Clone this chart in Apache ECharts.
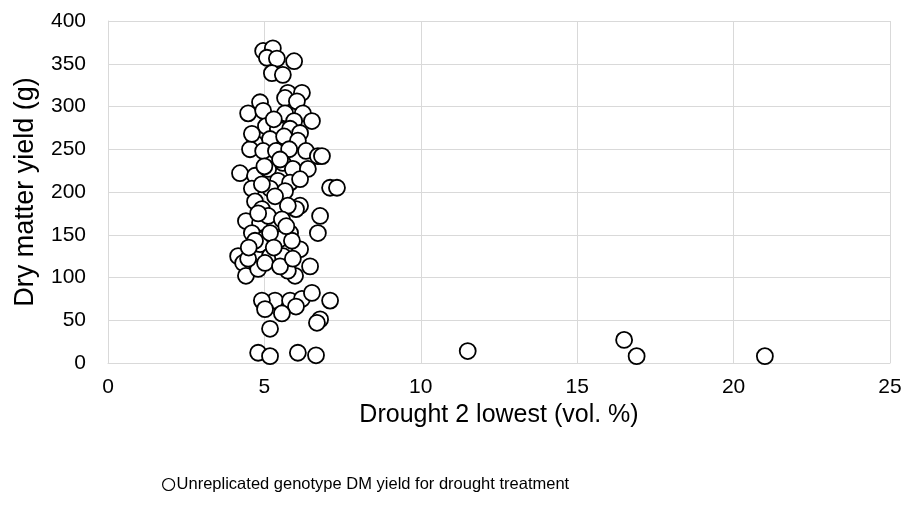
<!DOCTYPE html>
<html>
<head>
<meta charset="utf-8">
<script src="https://cdn.jsdelivr.net/npm/echarts@6/dist/echarts.min.js"></script>
<style>html,body{margin:0;padding:0;background:#fff;}#c{width:909px;height:509px;}</style>
</head>
<body>
<div id="c"></div>
<script>
const seriesName = 'Unreplicated genotype DM yield for drought treatment';
const xAxisName = 'Drought 2 lowest (vol. %)';
const yAxisName = 'Dry matter yield (g)';
const droughtX = [
  4.96,5.27,5.08,5.40,5.95,5.24,5.59,5.75,6.20,5.66,4.86,6.04,4.48,4.96,5.66,6.23,5.95,6.52,5.05,5.43,
  5.82,6.14,4.70,5.18,5.63,6.07,4.54,4.96,5.37,5.79,6.33,6.71,6.84,4.22,4.70,5.12,5.59,5.91,6.39,5.43,
  5.82,4.60,5.18,5.66,6.14,7.10,7.32,6.14,6.01,6.78,4.70,4.92,4.41,4.86,5.34,5.82,6.71,4.60,4.99,5.50,
  4.16,4.32,4.41,4.86,5.18,5.59,6.14,6.46,5.98,5.75,4.80,5.34,4.92,5.02,5.82,6.20,6.52,7.10,6.01,5.56,
  5.18,6.78,6.68,4.80,5.18,6.07,6.65,4.92,5.34,5.75,5.12,5.56,4.70,5.18,5.88,4.48,5.02,5.50,5.91,
  4.60,5.30,5.00,5.50,4.80,5.30,5.70,4.50,
  11.5,16.5,16.9,21.0
];
const dmYield = [
  365,368,357,356,353,339,337,316,316,310,305,306,292,295,292,292,283,283,277,274,
  274,269,257,262,265,260,250,248,248,250,248,242,242,222,219,227,234,227,227,213,
  211,204,204,201,215,205,205,184,180,172,189,180,166,164,160,152,152,152,145,145,
  125,117,102,139,125,125,133,113,102,108,110,73,73,63,73,75,82,73,66,58,
  40,51,47,12,8,12,9,209,195,184,172,168,143,152,143,122,117,113,122,
  268,285,230,238,175,135,160,135,
  14,27,8,8
];
const xTicks = [0,5,10,15,20,25];
const yTicks = [0,50,100,150,200,250,300,350,400];

const points = droughtX.map((x,i)=>[x, dmYield[i]]);
const chart = echarts.init(document.getElementById('c'), null, {renderer:'canvas'});
const font = 'Liberation Sans, Arial, sans-serif';
chart.setOption({
  animation:false,
  backgroundColor:'#fff',
  grid:{left:108,right:19,top:21,bottom:146,containLabel:false},
  xAxis:{
    type:'value', min:xTicks[0], max:xTicks[xTicks.length-1], interval:5,
    name:xAxisName, nameLocation:'middle', nameGap:35,
    nameTextStyle:{fontFamily:font,fontSize:25,color:'#000'},
    axisLine:{show:true,lineStyle:{color:'#d9d9d9',width:1}},
    axisTick:{show:false},
    axisLabel:{fontFamily:font,fontSize:21,color:'#000',margin:14},
    splitLine:{show:true,lineStyle:{color:'#d9d9d9',width:1}}
  },
  yAxis:{
    type:'value', min:yTicks[0], max:yTicks[yTicks.length-1], interval:50,
    name:yAxisName, nameLocation:'middle', nameGap:69,
    nameTextStyle:{fontFamily:font,fontSize:27,color:'#000'},
    axisLine:{show:true,lineStyle:{color:'#d9d9d9',width:1}},
    axisTick:{show:false},
    axisLabel:{fontFamily:font,fontSize:21,color:'#000',margin:22},
    splitLine:{show:true,lineStyle:{color:'#d9d9d9',width:1}}
  },
  legend:{
    show:true, top:471, left:157,
    itemWidth:12,itemHeight:12,itemGap:4,
    icon:'circle',
    textStyle:{fontFamily:font,fontSize:16.5,color:'#000',padding:[0,0,0,-3]},
    data:[{name:seriesName,itemStyle:{color:'#fff',borderColor:'#000',borderWidth:1.2}}]
  },
  series:[{
    name:seriesName, type:'scatter', data:points,
    symbol:'circle', symbolSize:16,
    itemStyle:{color:'#fff',borderColor:'#000',borderWidth:1.8,opacity:1}
  }]
});
</script>
</body>
</html>
